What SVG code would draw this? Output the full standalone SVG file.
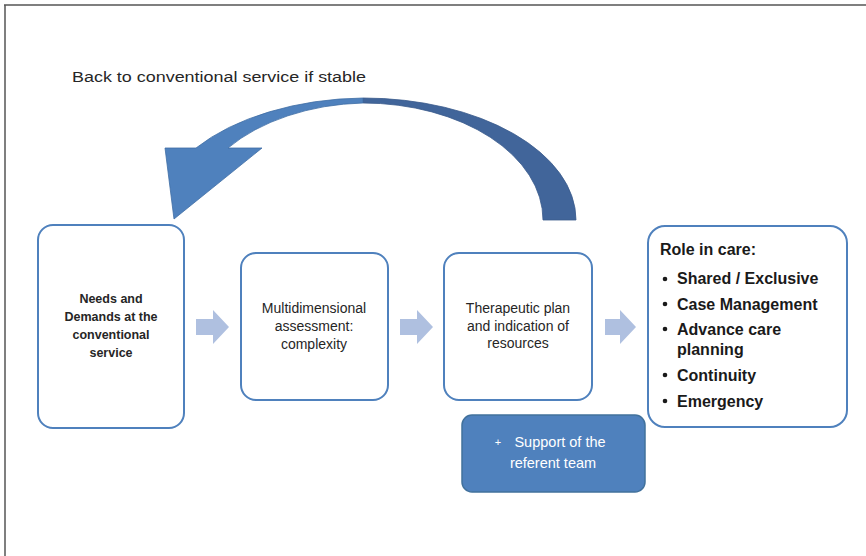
<svg xmlns="http://www.w3.org/2000/svg" width="866" height="556" viewBox="0 0 866 556">
<style>
.box{fill:#fff;stroke:#4F81BD;stroke-width:2}
.t{font-family:"Liberation Sans",Arial,sans-serif;fill:#262626;text-anchor:middle}
.n{font-size:14px}
.b{font-size:12.5px;font-weight:bold}
.r{font-family:"Liberation Sans",Arial,sans-serif;fill:#1a1a1a;font-size:16px;font-weight:bold}
.blk{fill:#AFC0E0}
.w{fill:#fff;font-size:14.5px}
</style>
<rect width="866" height="556" fill="#fff"/>
<g id="frame">
<line x1="4" y1="5" x2="866" y2="5" stroke="#555" stroke-width="1.5"/>
<line x1="5" y1="5" x2="5" y2="556" stroke="#555" stroke-width="1.5"/>
</g>
<g id="connectors">
<g id="loop-arrow">
<path d="M576,220 A213,122 0 0 0 363,98 L363,103 A180,117 0 0 1 543,220 Z" fill="#41659A" stroke="#3A5B8C" stroke-width="0.8"/>
<path d="M363,98 A213,122 0 0 0 196,148 L165,148 L174,219 L262,148 L228,148 A180,117 0 0 1 363,103 Z" fill="#4F81BD" stroke="#3F6DA5" stroke-width="0.8"/>
</g>
<path class="blk" d="M196,319 H213 V310 L229,327 L213,344 V335 H196 Z"/>
<path class="blk" d="M400,319 H417 V310 L433,327 L417,344 V335 H400 Z"/>
<path class="blk" d="M605,319 H620 V310 L636,327 L620,344 V335 H605 Z"/>
</g>
<text class="t" x="72" y="82" textLength="294" lengthAdjust="spacingAndGlyphs" style="font-size:15.5px;text-anchor:start">Back to conventional service  if stable</text>
<g id="n1">
<rect class="box" x="38" y="225" width="146" height="203" rx="15"/>
<text class="t b" x="111" y="303">Needs and</text>
<text class="t b" x="111" y="321">Demands at the</text>
<text class="t b" x="111" y="339">conventional</text>
<text class="t b" x="111" y="357">service</text>
</g>
<g id="n2">
<rect class="box" x="241" y="253" width="147" height="147" rx="15"/>
<text class="t n" x="314" y="313">Multidimensional</text>
<text class="t n" x="314" y="331">assessment:</text>
<text class="t n" x="314" y="349">complexity</text>
</g>
<g id="n3">
<rect class="box" x="444" y="253" width="148" height="147" rx="15"/>
<text class="t n" x="518" y="313">Therapeutic plan</text>
<text class="t n" x="518" y="331">and indication of</text>
<text class="t n" x="518" y="348">resources</text>
</g>
<g id="n4">
<rect class="box" x="648" y="226" width="199" height="201" rx="17"/>
<text class="r" x="660" y="255">Role in care:</text>
<g fill="#1a1a1a">
<circle cx="665" cy="279" r="2.3"/>
<circle cx="665" cy="304" r="2.3"/>
<circle cx="665" cy="329" r="2.3"/>
<circle cx="665" cy="375" r="2.3"/>
<circle cx="665" cy="401" r="2.3"/>
</g>
<text class="r" x="677" y="284">Shared / Exclusive</text>
<text class="r" x="677" y="310">Case Management</text>
<text class="r" x="677" y="335">Advance care</text>
<text class="r" x="677" y="355">planning</text>
<text class="r" x="677" y="381">Continuity</text>
<text class="r" x="677" y="407">Emergency</text>
</g>
<g id="n5">
<rect x="462" y="415" width="183" height="77" rx="10" fill="#4F81BD" stroke="#41719C" stroke-width="1.5"/>
<text class="t" x="498" y="446" style="fill:#fff;font-size:11px">+</text>
<text class="t w" x="560" y="447">Support of the</text>
<text class="t w" x="553" y="468">referent team</text>
</g>
</svg>
